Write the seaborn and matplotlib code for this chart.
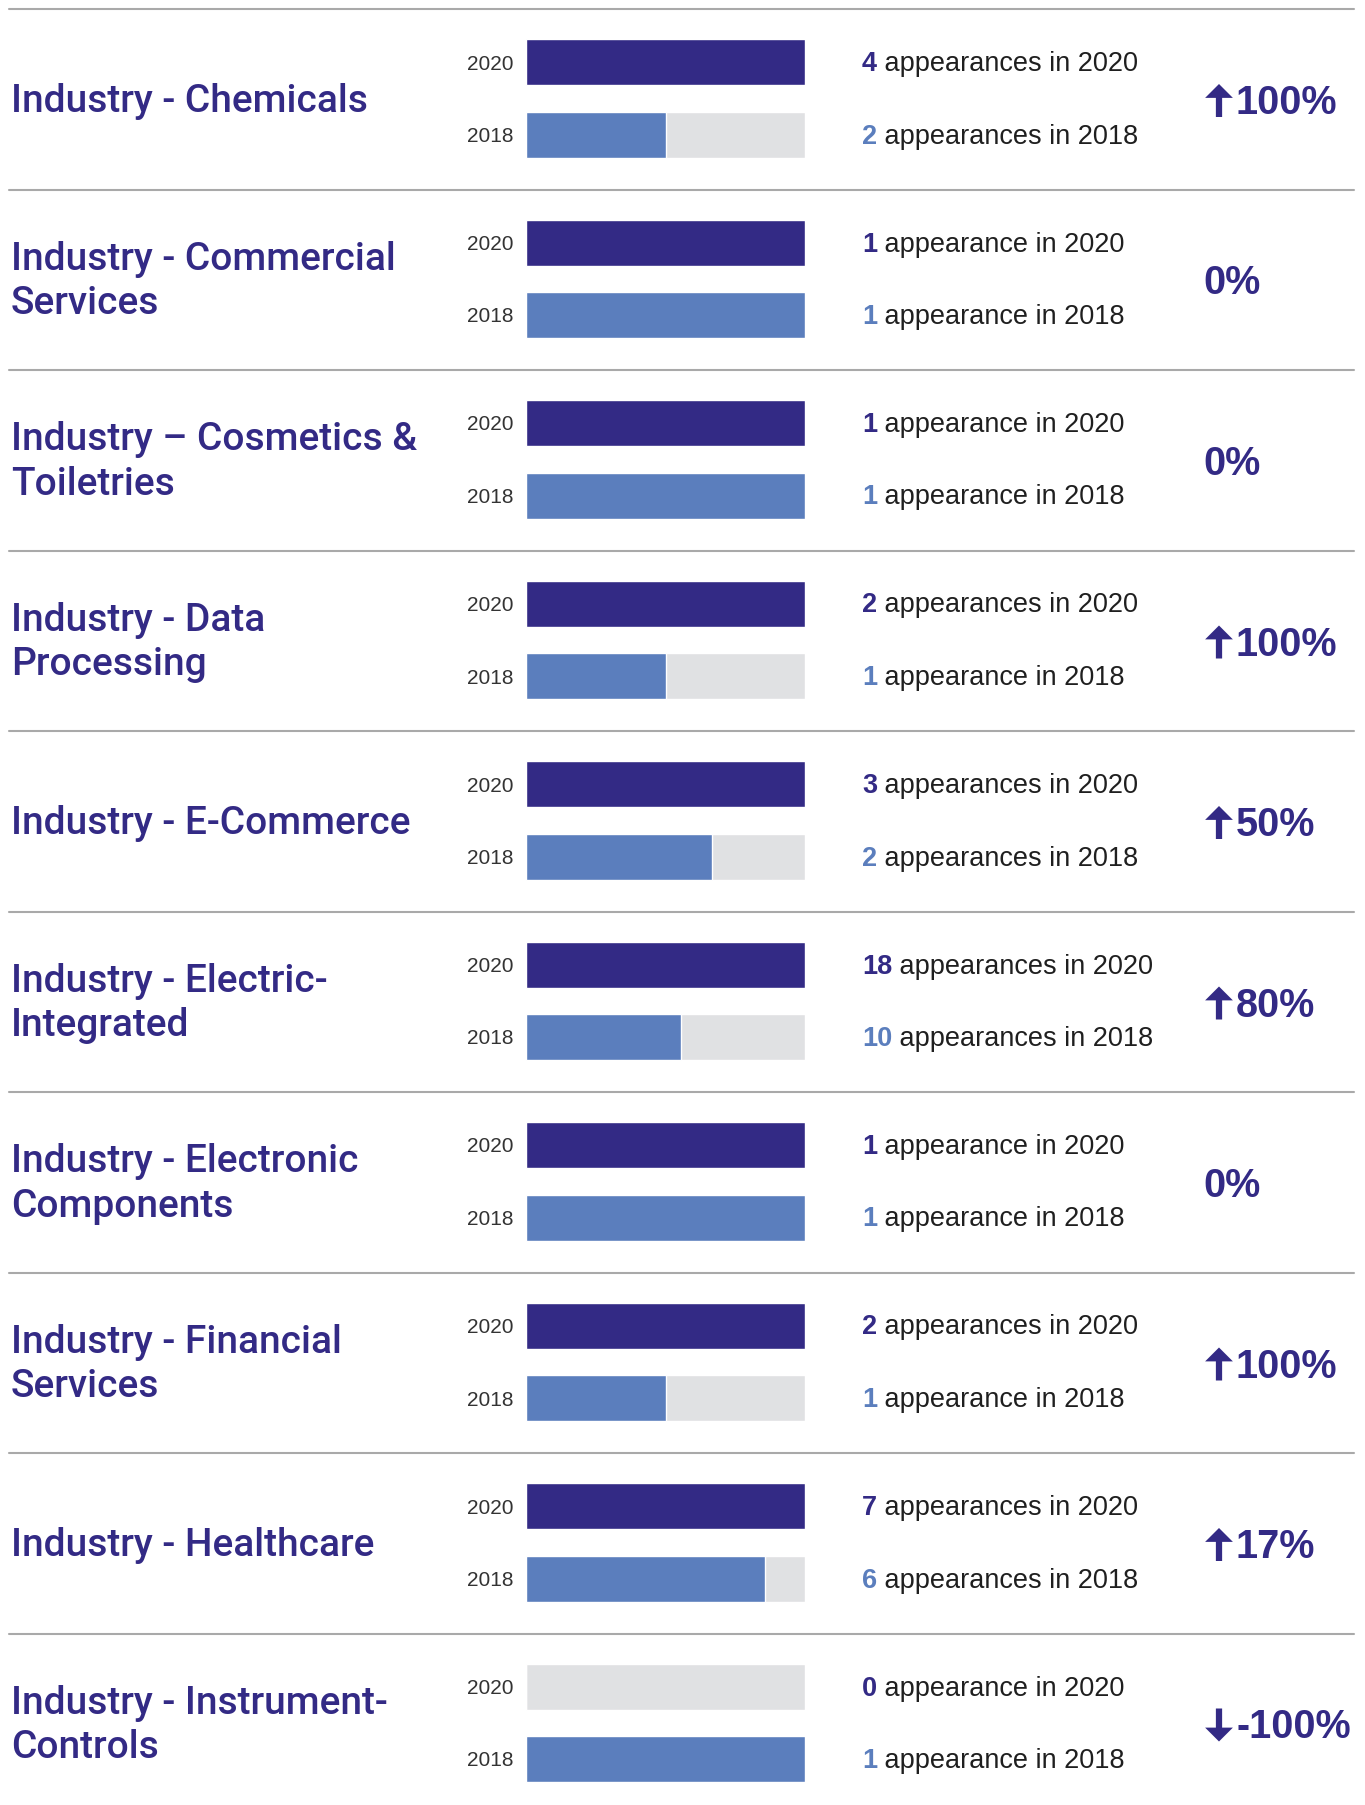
import matplotlib
matplotlib.use("Agg")
import matplotlib.pyplot as plt
import seaborn as sns
import pandas as pd
from matplotlib.lines import Line2D
from matplotlib.patches import FancyArrowPatch

# --- data -------------------------------------------------------------
categories = [
    "Industry - Chemicals",
    "Industry - Commercial\nServices",
    "Industry \u2013 Cosmetics &\nToiletries",
    "Industry - Data\nProcessing",
    "Industry - E-Commerce",
    "Industry - Electric-\nIntegrated",
    "Industry - Electronic\nComponents",
    "Industry - Financial\nServices",
    "Industry - Healthcare",
    "Industry - Instrument-\nControls",
]
appearances_2020 = [4, 1, 1, 2, 3, 18, 1, 2, 7, 0]
appearances_2018 = [2, 1, 1, 1, 2, 10, 1, 1, 6, 1]
years = ["2020", "2018"]

# --- style ------------------------------------------------------------
sns.set_theme(style="white")
plt.rcParams["font.family"] = ["Roboto", "DejaVu Sans"]

NAVY = "#332a85"
BLUE = "#5b7ebd"
TRACK = "#e0e1e3"
INK = "#1f1f1f"
RULE = "#a9a9a9"
SANS = ["Liberation Sans", "DejaVu Sans"]

W, H = 1365, 1805
fig = plt.figure(figsize=(W / 100, H / 100), dpi=100)

def fx(px):
    return px / W

def fy(py):
    return 1 - py / H

row_step = 180.5
first_rule = 9.0
bar_left, bar_right = 526, 805
bar_h = 46.0
centre_gap = 72.5  # distance between the two bar centres

for i, cat in enumerate(categories):
    top = first_rule + i * row_step
    v20, v18 = appearances_2020[i], appearances_2018[i]
    vmax = max(v20, v18)

    # separator rule above each row
    fig.add_artist(Line2D([fx(9), fx(1354)], [fy(top), fy(top)],
                          color=RULE, lw=1.5, transform=fig.transFigure))

    # bar axes: category centres 0 and 1, axis spans two category units
    c20 = top + 53
    ax_top = c20 - centre_gap / 2
    ax_h = 2 * centre_gap
    ax = fig.add_axes([fx(bar_left), fy(ax_top + ax_h),
                       fx(bar_right - bar_left), ax_h / H])

    df = pd.DataFrame({"year": years, "count": [v20, v18],
                       "track": [vmax, vmax]})
    width = bar_h / centre_gap
    sns.barplot(data=df, x="track", y="year", order=years, color=TRACK,
                width=width, saturation=1, ax=ax)
    sns.barplot(data=df, x="count", y="year", order=years, hue="year",
                palette={"2020": NAVY, "2018": BLUE}, width=width,
                saturation=1, legend=False, ax=ax)
    ax.set_xlim(0, vmax)
    ax.set_ylim(1.5, -0.5)
    ax.set_xlabel("")
    ax.set_ylabel("")
    ax.set_xticks([])
    ax.tick_params(axis="y", length=0, pad=9, labelsize=15, labelcolor="#333333")
    for lab in ax.get_yticklabels():
        lab.set_fontfamily(SANS)
    sns.despine(ax=ax, left=True, bottom=True)
    ax.patch.set_alpha(0)

    # category name
    fig.text(fx(11), fy(top + 92), cat, ha="left", va="center",
             fontsize=28, color=NAVY, linespacing=1.25, fontweight="medium")

    # appearance counts
    for val, yr, col, cy in [(v20, "2020", NAVY, c20),
                             (v18, "2018", BLUE, c20 + centre_gap)]:
        word = "appearances" if val > 1 else "appearance"
        t = fig.text(fx(862), fy(cy + 2), str(val), ha="left", va="center",
                     fontsize=19.5, fontweight="bold", color=col, family=SANS)
        ax.annotate(f" {word} in {yr}", xy=(1, 0), xycoords=t,
                    ha="left", va="bottom", fontsize=19.5, color=INK,
                    family=SANS, annotation_clip=False)

    # change from 2018 to 2020
    pct = round((v20 - v18) / v18 * 100)
    mid = top + 91
    if pct != 0:
        y0, y1 = (mid + 17, mid - 16) if pct > 0 else (mid - 16, mid + 17)
        fig.add_artist(FancyArrowPatch(
            (fx(1219), fy(y0)), (fx(1219), fy(y1)),
            transform=fig.transFigure,
            arrowstyle="simple,head_width=20,head_length=10,tail_width=4.5",
            mutation_scale=1, shrinkA=0, shrinkB=0, color=NAVY, lw=0))
        fig.text(fx(1236), fy(mid + 3), f"{pct}%", ha="left", va="center",
                 fontsize=28.5, fontweight="bold", color=NAVY, family=SANS)
    else:
        fig.text(fx(1203), fy(mid + 3), "0%", ha="left", va="center",
                 fontsize=28.5, fontweight="bold", color=NAVY, family=SANS)

fig.savefig("out.png", dpi=100, facecolor="white")
